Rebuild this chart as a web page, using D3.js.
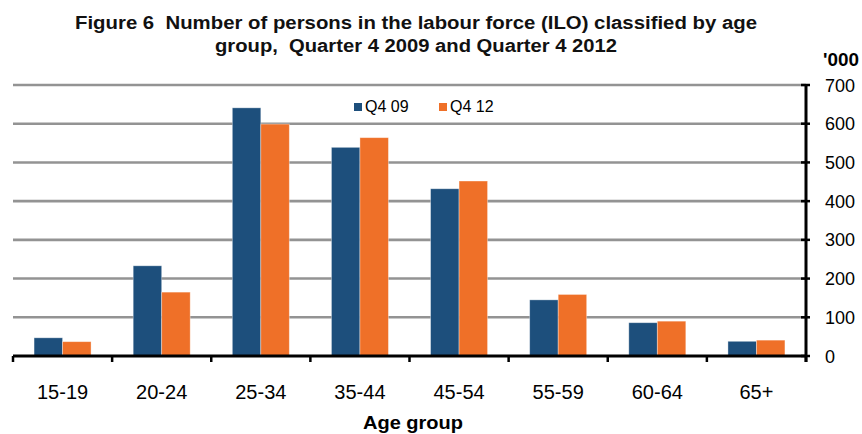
<!DOCTYPE html>
<html>
<head>
<meta charset="utf-8">
<script src="https://cdn.jsdelivr.net/npm/d3@7"></script>
<style>
  body { margin: 0; background: #fff; }
  svg { display: block; font-family: "Liberation Sans", Arial, sans-serif; }
  text { white-space: pre; }
</style>
</head>
<body>
<div id="chart"></div>
<script>
// labour force by age group, '000
var ageGroups = ['15-19', '20-24', '25-34', '35-44', '45-54', '55-59', '60-64', '65+'];
var seriesNames = ['Q4 09', 'Q4 12'];
var q409 = [47, 233, 641, 539, 432, 145, 86, 38];
var q412 = [37, 165, 599, 564, 452, 159, 90, 41];
var yTicks = [0, 100, 200, 300, 400, 500, 600, 700];

var colors = ['#1d4f7c', '#ef7028'];

const width = 862, height = 434;
const plotLeft = 13, plotRight = 806, plotTop = 85, plotBottom = 356;

const svg = d3.select('#chart').append('svg')
    .attr('width', width)
    .attr('height', height);

const data = ageGroups.map((g, i) => ({group: g, values: [q409[i], q412[i]]}));

const x0 = d3.scaleBand()
    .domain(ageGroups)
    .range([plotLeft, plotRight])
    .paddingInner(0.425)
    .paddingOuter(0.2125);

const x1 = d3.scaleBand()
    .domain([0, 1])
    .range([0, x0.bandwidth()]);

const y = d3.scaleLinear()
    .domain([0, 700])
    .range([plotBottom, plotTop]);

// gridlines
svg.append('g')
    .selectAll('line')
    .data(yTicks.filter(d => d > 0))
    .enter().append('line')
    .attr('x1', plotLeft)
    .attr('x2', plotRight)
    .attr('y1', d => y(d))
    .attr('y2', d => y(d))
    .style('stroke', '#939393')
    .style('stroke-width', 2.6);

// bars
const grp = svg.append('g')
    .selectAll('g')
    .data(data)
    .enter().append('g')
    .attr('transform', d => 'translate(' + x0(d.group) + ',0)');

grp.selectAll('rect')
    .data(d => d.values)
    .enter().append('rect')
    .attr('x', (d, i) => x1(i))
    .attr('y', d => y(d))
    .attr('width', x1.bandwidth())
    .attr('height', d => y(0) - y(d))
    .style('fill', (d, i) => colors[i])
    .style('stroke', '#fff')
    .style('stroke-opacity', 0.45)
    .style('stroke-width', 0.8);

// bottom axis with ticks at category boundaries
const step = x0.step();
svg.append('line')
    .attr('x1', plotLeft).attr('x2', plotRight)
    .attr('y1', plotBottom).attr('y2', plotBottom)
    .style('stroke', '#000').style('stroke-width', 3);

svg.append('g')
    .selectAll('line')
    .data(d3.range(ageGroups.length + 1))
    .enter().append('line')
    .attr('x1', i => plotLeft + i * step)
    .attr('x2', i => plotLeft + i * step)
    .attr('y1', plotBottom)
    .attr('y2', plotBottom + 6)
    .style('stroke', '#000').style('stroke-width', 2.5);

svg.append('g')
    .selectAll('text')
    .data(ageGroups)
    .enter().append('text')
    .attr('x', d => x0(d) + x0.bandwidth() / 2)
    .attr('y', 399)
    .attr('text-anchor', 'middle')
    .style('font-size', '20px')
    .style('fill', '#000')
    .text(d => d);

// right axis
svg.append('line')
    .attr('x1', plotRight).attr('x2', plotRight)
    .attr('y1', plotTop - 1).attr('y2', plotBottom + 6)
    .style('stroke', '#000').style('stroke-width', 3);

svg.append('g')
    .selectAll('line')
    .data(yTicks)
    .enter().append('line')
    .attr('x1', plotRight - 5)
    .attr('x2', plotRight + 4)
    .attr('y1', d => y(d))
    .attr('y2', d => y(d))
    .style('stroke', '#000').style('stroke-width', 2.5);

svg.append('g')
    .selectAll('text')
    .data(yTicks)
    .enter().append('text')
    .attr('x', 825)
    .attr('y', d => y(d) + 6.5)
    .style('font-size', '18px')
    .style('fill', '#000')
    .text(d => d);

svg.append('text')
    .attr('x', 823)
    .attr('y', 66)
    .attr('textLength', 36)
    .attr('lengthAdjust', 'spacingAndGlyphs')
    .style('font-size', '18px')
    .style('font-weight', 'bold')
    .text("'000");

// title
const titleLines = [
    {text: 'Figure 6  Number of persons in the labour force (ILO) classified by age', y: 29, len: 682},
    {text: 'group,  Quarter 4 2009 and Quarter 4 2012', y: 52, len: 402}
];
svg.append('g')
    .selectAll('text')
    .data(titleLines)
    .enter().append('text')
    .attr('x', 416)
    .attr('y', d => d.y)
    .attr('text-anchor', 'middle')
    .attr('textLength', d => d.len)
    .attr('lengthAdjust', 'spacingAndGlyphs')
    .style('font-size', '18px')
    .style('font-weight', 'bold')
    .style('fill', '#111')
    .text(d => d.text);

// x axis title
svg.append('text')
    .attr('x', 413)
    .attr('y', 429)
    .attr('text-anchor', 'middle')
    .attr('textLength', 100)
    .attr('lengthAdjust', 'spacingAndGlyphs')
    .style('font-size', '18px')
    .style('font-weight', 'bold')
    .text('Age group');

// legend
const legendX = [354, 439];
const legend = svg.append('g')
    .selectAll('g')
    .data(seriesNames)
    .enter().append('g')
    .attr('transform', (d, i) => 'translate(' + legendX[i] + ',103)');

legend.append('rect')
    .attr('width', 8)
    .attr('height', 8)
    .style('fill', (d, i) => colors[i]);

legend.append('text')
    .attr('x', 11)
    .attr('y', 8.5)
    .style('font-size', '16px')
    .style('fill', '#000')
    .text(d => d);
</script>
</body>
</html>
